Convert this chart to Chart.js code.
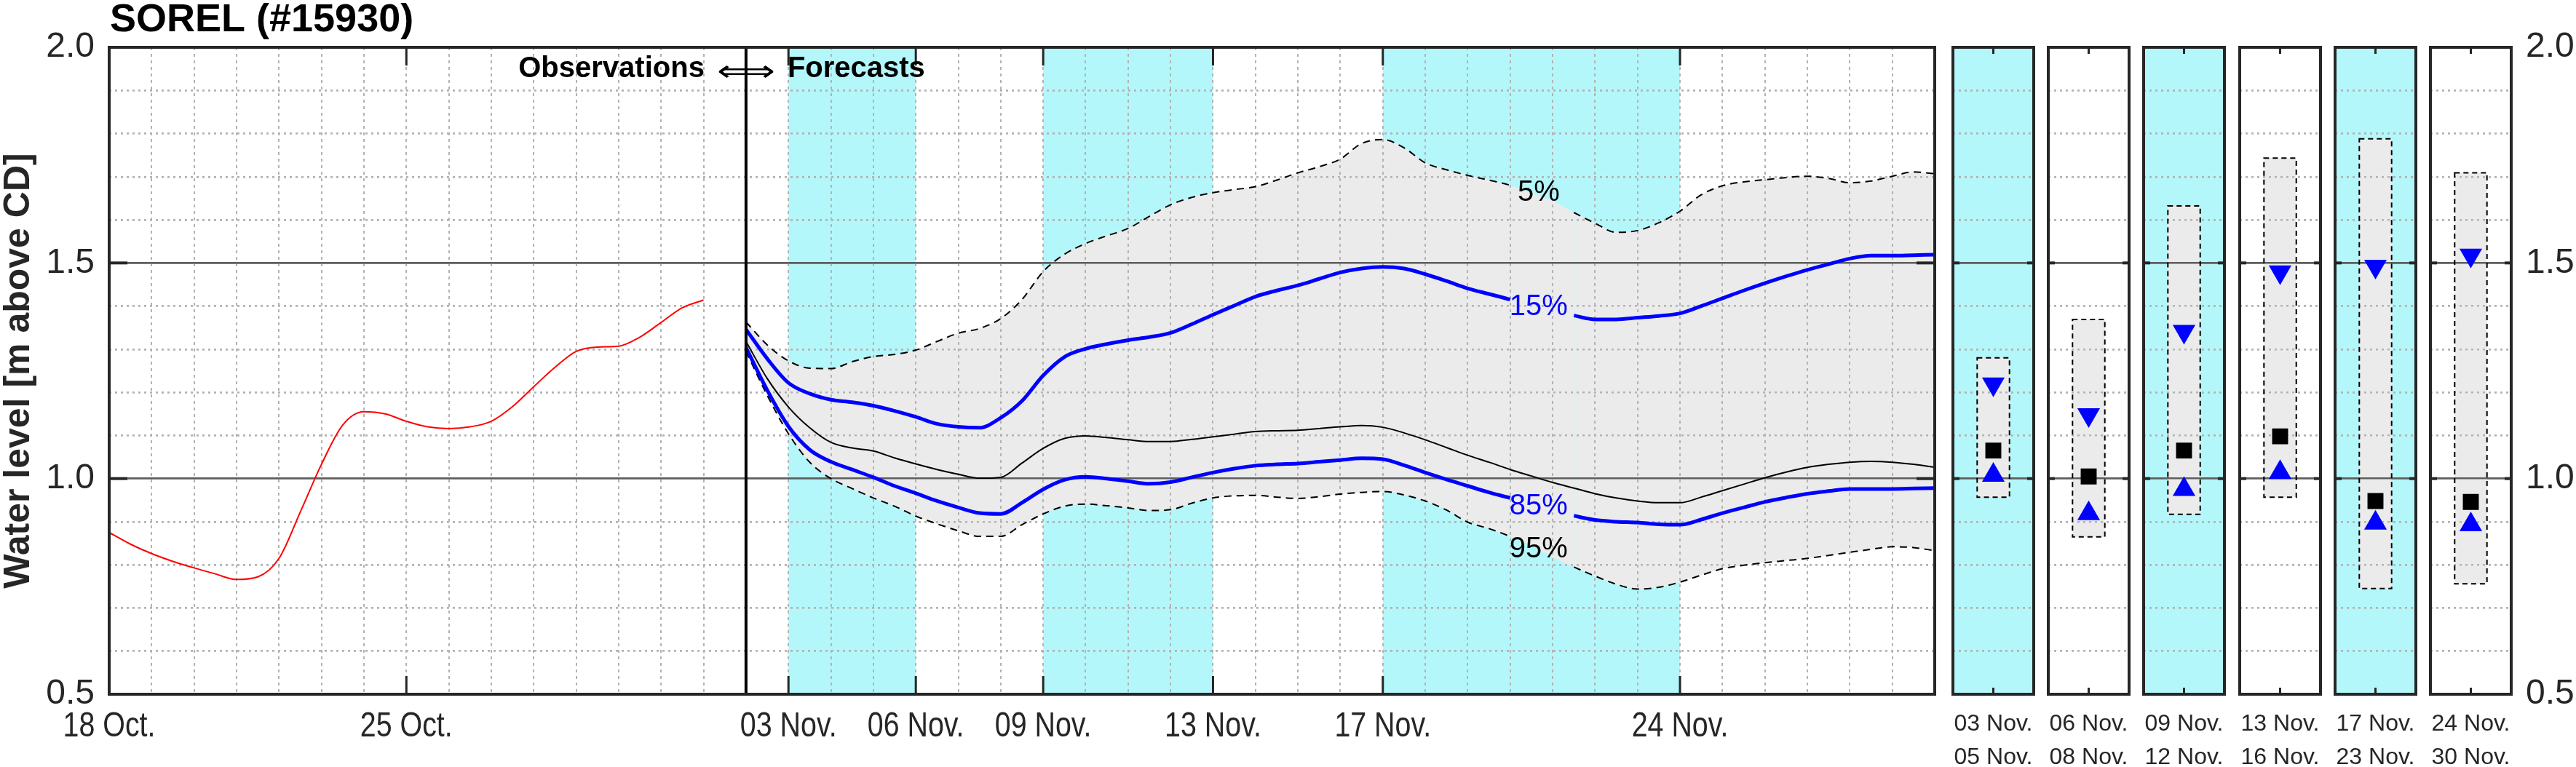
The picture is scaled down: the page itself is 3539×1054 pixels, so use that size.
<!DOCTYPE html>
<html lang="en">
<head>
<meta charset="utf-8">
<title>SOREL (#15930) - water level</title>
<script src="https://cdn.jsdelivr.net/npm/chart.js@4.4.1/dist/chart.umd.min.js"></script>
<style>
  html, body { margin: 0; padding: 0; background: #ffffff; }
  #wrap { position: relative; width: 3539px; height: 1054px; overflow: hidden; background: #ffffff; }
  #wrap canvas { position: absolute; top: 0; }
</style>
</head>
<body>
<div id="wrap">
  <canvas id="mainChart" width="2700" height="1054" style="left:0;width:2700px;height:1054px"></canvas>
</div>
<script>
// Observed water level (m above CD), x = days after 18 Oct.
const obsDays = [0, 0.5, 1, 1.5, 2, 2.5, 3, 3.5, 4, 4.5, 5, 5.5, 6, 6.5, 7, 7.5, 8, 8.5, 9, 9.5,
  10, 10.5, 11, 11.5, 12, 12.5, 13, 13.5, 14];
const obsLevel = [0.875, 0.848, 0.826, 0.808, 0.793, 0.779, 0.766, 0.772, 0.815, 0.922, 1.033, 1.124,
  1.155, 1.150, 1.133, 1.120, 1.116, 1.120, 1.133, 1.167, 1.213, 1.258, 1.295, 1.305, 1.307, 1.328,
  1.362, 1.396, 1.414];

// Forecast percentiles, x = days after 18 Oct.
const fcDays = [15, 15.5, 16, 16.5, 17, 17.5, 18, 18.5, 19, 19.5, 20, 20.5, 21, 21.5, 22, 22.5,
  23, 23.5, 24, 24.5, 25, 25.5, 26, 26.5, 27, 27.5, 28, 28.5, 29, 29.5, 30, 30.5, 31, 31.5, 32,
  32.5, 33, 33.5, 34, 34.5, 35, 35.5, 36, 36.5, 37, 37.5, 38, 38.5, 39, 39.5, 40, 40.5, 41, 41.5,
  42, 42.5, 43];
const fc05 = [1.363, 1.310, 1.273, 1.256, 1.255, 1.271, 1.283, 1.288, 1.298, 1.318, 1.337, 1.348,
  1.371, 1.415, 1.480, 1.520, 1.545, 1.563, 1.580, 1.608, 1.635, 1.652, 1.663, 1.670, 1.677, 1.692,
  1.709, 1.723, 1.741, 1.777, 1.786, 1.767, 1.732, 1.716, 1.703, 1.692, 1.680, 1.662, 1.643, 1.617,
  1.592, 1.571, 1.575, 1.593, 1.620, 1.658, 1.679, 1.688, 1.693, 1.698, 1.701, 1.696, 1.686, 1.690,
  1.701, 1.711, 1.707];
const fc15 = [1.346, 1.278, 1.222, 1.197, 1.183, 1.177, 1.169, 1.157, 1.143, 1.127, 1.120, 1.118,
  1.141, 1.180, 1.239, 1.282, 1.301, 1.312, 1.321, 1.328, 1.338, 1.358, 1.380, 1.401, 1.422, 1.436,
  1.448, 1.463, 1.478, 1.487, 1.491, 1.487, 1.474, 1.458, 1.441, 1.428, 1.415, 1.400, 1.386, 1.378,
  1.369, 1.369, 1.373, 1.377, 1.383, 1.400, 1.418, 1.436, 1.453, 1.469, 1.484, 1.497, 1.510, 1.517,
  1.517, 1.518, 1.519];
const fc50 = [1.318, 1.232, 1.166, 1.118, 1.084, 1.071, 1.064, 1.048, 1.034, 1.021, 1.010, 1.001,
  1.003, 1.036, 1.070, 1.093, 1.099, 1.095, 1.090, 1.086, 1.086, 1.091, 1.097, 1.103, 1.109, 1.111,
  1.112, 1.116, 1.120, 1.123, 1.119, 1.106, 1.090, 1.072, 1.054, 1.038, 1.021, 1.006, 0.991, 0.978,
  0.965, 0.955, 0.948, 0.944, 0.944, 0.957, 0.972, 0.987, 1.002, 1.015, 1.026, 1.033, 1.038, 1.040,
  1.038, 1.033, 1.026];
const fc85 = [1.304, 1.205, 1.121, 1.067, 1.039, 1.021, 1.003, 0.983, 0.966, 0.948, 0.933, 0.920,
  0.918, 0.944, 0.975, 0.997, 1.004, 1.000, 0.994, 0.988, 0.992, 1.003, 1.014, 1.023, 1.030, 1.033,
  1.035, 1.039, 1.043, 1.047, 1.045, 1.031, 1.014, 0.998, 0.983, 0.968, 0.955, 0.940, 0.926, 0.914,
  0.904, 0.900, 0.898, 0.894, 0.893, 0.905, 0.920, 0.933, 0.946, 0.956, 0.965, 0.971, 0.976, 0.976,
  0.976, 0.977, 0.978];
const fc95 = [1.295, 1.193, 1.104, 1.038, 1.000, 0.977, 0.955, 0.936, 0.913, 0.895, 0.879, 0.866,
  0.866, 0.893, 0.918, 0.936, 0.941, 0.937, 0.932, 0.926, 0.928, 0.943, 0.955, 0.960, 0.961, 0.957,
  0.954, 0.958, 0.964, 0.968, 0.970, 0.962, 0.948, 0.927, 0.899, 0.884, 0.866, 0.845, 0.818, 0.795,
  0.774, 0.755, 0.744, 0.748, 0.760, 0.776, 0.791, 0.799, 0.805, 0.810, 0.815, 0.822, 0.829, 0.836,
  0.842, 0.840, 0.833];

// Date ticks of the main axis
const tickDays = [0, 7, 16, 19, 22, 26, 30, 37];
const tickLabels = ['18 Oct.', '25 Oct.', '03 Nov.', '06 Nov.', '09 Nov.', '13 Nov.', '17 Nov.', '24 Nov.'];
const yTickValues = [0.5, 1.0, 1.5, 2.0];

// Shaded forecast periods (days after 18 Oct.)
const bandStart = [16, 22, 30];
const bandEnd = [19, 26, 37];

// Period summaries (right-hand panels)
const panelFrom = ['03 Nov.', '06 Nov.', '09 Nov.', '13 Nov.', '17 Nov.', '24 Nov.'];
const panelTo = ['05 Nov.', '08 Nov.', '12 Nov.', '16 Nov.', '23 Nov.', '30 Nov.'];
const panel05 = [1.280, 1.369, 1.632, 1.743, 1.788, 1.709];
const panel15 = [1.219, 1.148, 1.341, 1.479, 1.492, 1.518];
const panel50 = [1.065, 1.005, 1.065, 1.098, 0.948, 0.946];
const panel85 = [1.008, 0.919, 0.975, 1.014, 0.897, 0.893];
const panel95 = [0.957, 0.865, 0.917, 0.957, 0.745, 0.756];

// Styles
const FONT = "'Liberation Sans', Arial, Helvetica, sans-serif";
const INK = '#262626';
const CYAN = '#b4f7fa';
const BAND = '#ebebeb';
const BLUE = '#0000ff';
const MINOR = '#b3b3b3';
const MAJOR = '#5e5e5e';

const near = (a, b) => Math.abs(a - b) < 1e-6;
const isEdge = v => near(v, 0.5) || near(v, 2.0);
const isMajor = v => yTickValues.some(t => near(t, v)) && !isEdge(v);
const tickVal = c => (c && c.tick) ? c.tick.value : NaN;

function text(ctx, str, x, y, opt) {
  ctx.save();
  ctx.font = opt.font;
  ctx.fillStyle = opt.color || INK;
  ctx.textAlign = opt.align || 'left';
  ctx.textBaseline = opt.baseline || 'alphabetic';
  ctx.translate(x, y);
  if (opt.rotate) ctx.rotate(opt.rotate);
  if (opt.squeeze) ctx.scale(opt.squeeze, 1);
  ctx.fillText(str, 0, 0);
  ctx.restore();
}

function seg(ctx, x0, y0, x1, y1, width, color) {
  ctx.save();
  ctx.strokeStyle = color;
  ctx.lineWidth = width;
  ctx.beginPath();
  ctx.moveTo(x0, y0);
  ctx.lineTo(x1, y1);
  ctx.stroke();
  ctx.restore();
}

function frame(ctx, a) {
  ctx.save();
  ctx.strokeStyle = INK;
  ctx.lineWidth = 4;
  ctx.strokeRect(a.left, a.top, a.right - a.left, a.bottom - a.top);
  ctx.restore();
}

// Shared water level axis
function levelAxis(position, showLabels, width) {
  return {
    type: 'linear',
    position: position,
    min: 0.5,
    max: 2.0,
    ticks: {
      stepSize: 0.1,
      autoSkip: false,
      display: showLabels,
      padding: 20,
      color: INK,
      font: { family: FONT, size: 48 },
      callback: v => yTickValues.some(t => near(t, v)) ? v.toFixed(1) : ''
    },
    grid: {
      drawTicks: false,
      color: c => isEdge(tickVal(c)) ? 'rgba(0,0,0,0)' : (isMajor(tickVal(c)) ? MAJOR : MINOR),
      lineWidth: c => isMajor(tickVal(c)) ? 2.5 : 2.5
    },
    border: { display: false, dash: c => isMajor(tickVal(c)) ? [] : [3, 5] },
    afterFit: s => { s.width = width; }
  };
}

// Hide a line where its percentage label sits
const labelGap = [33, 34.5];
const gapSegment = {
  borderColor: c => {
    const m = (c.p0.parsed.x + c.p1.parsed.x) / 2;
    return (m > labelGap[0] && m < labelGap[1]) ? 'rgba(0,0,0,0)' : undefined;
  }
};

const xy = (xs, ys) => xs.map((d, i) => ({ x: d, y: ys[i] }));

const lineBase = {
  pointRadius: 0,
  pointHitRadius: 0,
  cubicInterpolationMode: 'monotone',
  fill: false
};

const datasets = [
  Object.assign({ label: 'Observations', data: xy(obsDays, obsLevel), borderColor: '#ff0000', borderWidth: 2 }, lineBase),
  Object.assign({ label: '15%', data: xy(fcDays, fc15), borderColor: BLUE, borderWidth: 5, segment: gapSegment }, lineBase),
  Object.assign({ label: '85%', data: xy(fcDays, fc85), borderColor: BLUE, borderWidth: 5, segment: gapSegment }, lineBase),
  Object.assign({ label: '50%', data: xy(fcDays, fc50), borderColor: '#000000', borderWidth: 2 }, lineBase),
  Object.assign({ label: '5%', data: xy(fcDays, fc05), borderColor: '#000000', borderWidth: 2, borderDash: [10, 7], segment: gapSegment }, lineBase),
  Object.assign({ label: '95%', data: xy(fcDays, fc95), borderColor: '#000000', borderWidth: 2, borderDash: [10, 7], segment: gapSegment }, lineBase),
  Object.assign({}, lineBase, { label: '5-95% band', data: xy(fcDays, fc05), borderWidth: 0, borderColor: 'rgba(0,0,0,0)', backgroundColor: BAND, fill: 5 })
];
const BAND_INDEX = datasets.length - 1;

const pctLabels = [
  { text: '5%', day: 33.67, level: 1.663, color: '#000000' },
  { text: '15%', day: 33.67, level: 1.397, color: BLUE },
  { text: '85%', day: 33.67, level: 0.936, color: BLUE },
  { text: '95%', day: 33.67, level: 0.835, color: '#000000' }
];

const mainDecor = {
  id: 'mainDecor',
  beforeDraw(chart) {
    const { ctx, chartArea: a, scales: { x } } = chart;
    ctx.save();
    ctx.fillStyle = CYAN;
    bandStart.forEach((s, i) => {
      const x0 = x.getPixelForValue(s);
      const x1 = x.getPixelForValue(bandEnd[i]);
      ctx.fillRect(x0, a.top, x1 - x0, a.bottom - a.top);
    });
    ctx.restore();
  },
  afterDatasetDraw(chart, args) {
    if (args.index !== BAND_INDEX) return;
    chart.scales.x.drawGrid(chart.chartArea);
    chart.scales.y.drawGrid(chart.chartArea);
  },
  afterDraw(chart) {
    const { ctx, chartArea: a, scales: { x, y } } = chart;
    const xs = x.getPixelForValue(fcDays[0]);
    seg(ctx, xs, a.top, xs, a.bottom, 4, '#000000');
    frame(ctx, a);

    tickDays.forEach((d, i) => {
      const px = x.getPixelForValue(d);
      seg(ctx, px, a.bottom, px, a.bottom - 25, 3, INK);
      seg(ctx, px, a.top, px, a.top + 25, 3, INK);
      text(ctx, tickLabels[i], px, 1012, { font: '48px ' + FONT, align: 'center', squeeze: 0.82 });
    });
    yTickValues.filter(v => !isEdge(v)).forEach(v => {
      const py = y.getPixelForValue(v);
      seg(ctx, a.left, py, a.left + 25, py, 4, INK);
      seg(ctx, a.right - 25, py, a.right, py, 4, INK);
    });

    pctLabels.forEach(l => {
      text(ctx, l.text, x.getPixelForValue(l.day), y.getPixelForValue(l.level),
        { font: '40px ' + FONT, align: 'center', baseline: 'middle', color: l.color });
    });

    text(ctx, 'SOREL (#15930)', a.left + 1, 43, { font: 'bold 54px ' + FONT, color: '#000000' });
    text(ctx, 'Observations', xs - 57, 106, { font: 'bold 40px ' + FONT, align: 'right', color: '#000000' });
    text(ctx, 'Forecasts', xs + 57, 106, { font: 'bold 40px ' + FONT, color: '#000000' });
    ctx.save();
    ctx.font = '40px "DejaVu Sans", ' + FONT;
    const aw = ctx.measureText('\u27FA').width || 80;
    ctx.restore();
    text(ctx, '\u27FA', xs, 111, { font: '40px "DejaVu Sans", ' + FONT, align: 'center', color: '#000000', squeeze: 80 / aw });

    text(ctx, 'Water level [m above CD]', 40, (a.top + a.bottom) / 2,
      { font: 'bold 50px ' + FONT, align: 'center', rotate: -Math.PI / 2, color: INK });
  }
};

new Chart(document.getElementById('mainChart'), {
  type: 'line',
  data: { datasets: datasets },
  options: {
    responsive: false,
    animation: false,
    devicePixelRatio: 1,
    events: [],
    layout: { padding: { top: 65, bottom: 100, left: 0, right: 42 } },
    plugins: { legend: { display: false }, tooltip: { enabled: false } },
    scales: {
      x: {
        type: 'linear',
        min: 0,
        max: 43,
        ticks: { stepSize: 1, display: false, autoSkip: false },
        grid: { drawTicks: false, color: MINOR, lineWidth: 2 },
        border: { display: false, dash: [4, 5] },
        afterFit: s => { s.height = 0; }
      },
      y: levelAxis('left', true, 150)
    }
  },
  plugins: [mainDecor]
});

// Period panels
const panelLeft = [2683, 2814, 2945, 3077, 3208, 3339];
const PANEL_W = 111;
const wrap = document.getElementById('wrap');

function panelDecor(i) {
  return {
    id: 'panelDecor',
    beforeDraw(chart) {
      if (i % 2 !== 0) return;
      const { ctx, chartArea: a } = chart;
      ctx.save();
      ctx.fillStyle = CYAN;
      ctx.fillRect(a.left, a.top, a.right - a.left, a.bottom - a.top);
      ctx.restore();
    },
    afterDatasetDraw(chart, args) {
      if (args.index !== 3) return;
      const ctx = chart.ctx;
      chart.scales.y.drawGrid(chart.chartArea);
      const bar = chart.getDatasetMeta(3).data[0].getProps(['x', 'y', 'base', 'width'], true);
      const top = Math.min(bar.y, bar.base);
      const bottom = Math.max(bar.y, bar.base);
      ctx.save();
      ctx.strokeStyle = '#000000';
      ctx.lineWidth = 2;
      ctx.setLineDash([7, 5]);
      ctx.strokeRect(bar.x - bar.width / 2, top, bar.width, bottom - top);
      ctx.restore();
    },
    afterDraw(chart) {
      const { ctx, chartArea: a, scales: { y } } = chart;
      frame(ctx, a);
      const cx = (a.left + a.right) / 2;
      seg(ctx, cx, a.bottom, cx, a.bottom - 9, 3, INK);
      seg(ctx, cx, a.top, cx, a.top + 9, 3, INK);
      yTickValues.filter(v => !isEdge(v)).forEach(v => {
        const py = y.getPixelForValue(v);
        seg(ctx, a.left, py, a.left + 9, py, 4, INK);
        seg(ctx, a.right - 9, py, a.right, py, 4, INK);
      });
      text(ctx, panelFrom[i], cx, 1004, { font: '32px ' + FONT, align: 'center' });
      text(ctx, panelTo[i], cx, 1050, { font: '32px ' + FONT, align: 'center' });
    }
  };
}

panelFrom.forEach((from, i) => {
  const last = i === panelFrom.length - 1;
  const left = panelLeft[i] - 20;
  const w = last ? 3539 - left : PANEL_W + 40;
  const cv = document.createElement('canvas');
  cv.width = w;
  cv.height = 1054;
  cv.style.left = left + 'px';
  cv.style.width = w + 'px';
  cv.style.height = '1054px';
  wrap.appendChild(cv);

  new Chart(cv, {
    type: 'bar',
    data: {
      labels: [from],
      datasets: [
        { type: 'line', label: '15%', data: [panel15[i]], showLine: false, pointStyle: 'triangle', pointRotation: 180,
          pointRadius: 18, pointBackgroundColor: BLUE, pointBorderWidth: 0 },
        { type: 'line', label: '85%', data: [panel85[i]], showLine: false, pointStyle: 'triangle',
          pointRadius: 18, pointBackgroundColor: BLUE, pointBorderWidth: 0 },
        { type: 'line', label: '50%', data: [panel50[i]], showLine: false, pointStyle: 'rect',
          pointRadius: 15.5, pointBackgroundColor: '#000000', pointBorderWidth: 0 },
        { type: 'bar', label: '5-95%', data: [[panel95[i], panel05[i]]], backgroundColor: BAND, borderWidth: 0,
          barPercentage: 0.4, categoryPercentage: 1 }
      ]
    },
    options: {
      responsive: false,
      animation: false,
      devicePixelRatio: 1,
      events: [],
      layout: { padding: { top: 65, bottom: 100, left: 20, right: last ? 0 : 20 } },
      plugins: { legend: { display: false }, tooltip: { enabled: false } },
      scales: {
        x: { display: false },
        y: levelAxis(last ? 'right' : 'left', last, last ? w - 20 - PANEL_W : 0)
      }
    },
    plugins: [panelDecor(i)]
  });
});
</script>
</body>
</html>
